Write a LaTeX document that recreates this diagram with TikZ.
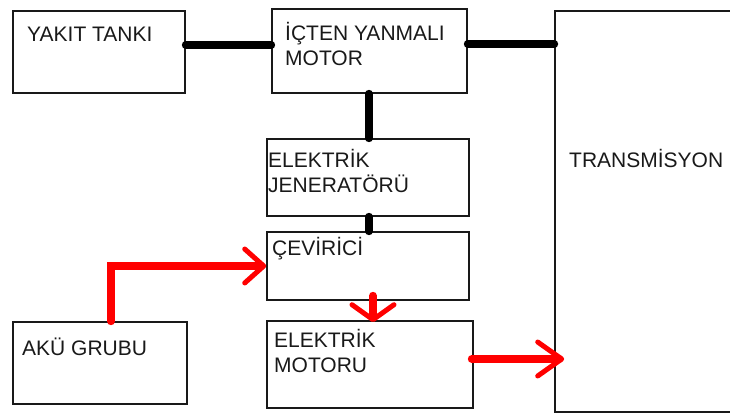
\documentclass[tikz,border=0pt]{standalone}
\usepackage{fontspec}
\setmainfont{Liberation Sans}
\usetikzlibrary{arrows.meta}
\begin{document}
\begin{tikzpicture}[x=1pt,y=-1pt,
  box/.style={draw=black!90, line width=1.6pt, inner sep=0pt},
  txt/.style={font=\fontsize{21}{25}\selectfont, inner sep=0pt, anchor=base west, text=black!90},
  blk/.style={line width=8pt, line cap=round, black},
  rd/.style={line width=8pt, line cap=round, draw=red},
  tipA/.style={-{Straight Barb[round, length=19pt, width=34pt, line width=5pt 0]}},
  tipB/.style={-{Straight Barb[round, length=15pt, width=42pt, line width=5pt 0]}},
  tipC/.style={-{Straight Barb[round, length=24pt, width=34pt, line width=5pt 0]}}]
\useasboundingbox (0,0) rectangle (730,417);
% boxes
\node[box, minimum width=172pt, minimum height=82pt] (yakit) at (99,52) {};
\node[box, minimum width=195pt, minimum height=84pt] (motor) at (369.5,51) {};
\node[box, minimum width=195pt, minimum height=401pt] (trans) at (652.5,211.5) {};
\node[box, minimum width=202pt, minimum height=77pt] (gen) at (368,177.5) {};
\node[box, minimum width=202pt, minimum height=68pt] (cev) at (368,266) {};
\node[box, minimum width=174pt, minimum height=82pt] (aku) at (100,363) {};
\node[box, minimum width=206pt, minimum height=87pt] (emot) at (370,364.5) {};
% texts
\node[txt] (yakitT) at (27,42) {YAKIT TANKI};
\node[txt] (motorT) at (285,41) {\vtop{\hbox{İÇTEN YANMALI}\hbox{MOTOR}}};
\node[txt] (transT) at (569,167) {TRANSMİSYON};
\node[txt] (genT) at (268,167) {\vtop{\hbox{ELEKTRİK}\hbox{JENERATÖRÜ}}};
\node[txt] (cevT) at (272,255) {ÇEVİRİCİ};
\node[txt] (akuT) at (22,355) {AKÜ GRUBU};
\node[txt] (emotT) at (274,347) {\vtop{\hbox{ELEKTRİK}\hbox{MOTORU}}};
% black connectors
\draw[blk] ([yshift=7pt]yakit.east) -- ([yshift=6pt]motor.west);
\draw[blk] ([yshift=7pt]motor.east) -- (trans.west |- 0,44);
\draw[blk] ([xshift=-0.5pt]motor.south) -- ([xshift=1pt]gen.north);
\draw[blk] ([xshift=1pt]gen.south) -- ([xshift=1pt]cev.north);
% red arrows
\draw[rd, tipA] ([xshift=11pt]aku.north) |- (cev.west);
\draw[rd, tipB] ([xshift=5pt,yshift=5pt]cev.south) -- ([xshift=3pt,yshift=-2pt]emot.north);
\draw[rd, tipC] ([xshift=-2pt,yshift=5.5pt]emot.east) -- ([xshift=10pt]trans.west |- 0,359);
\end{tikzpicture}
\end{document}
